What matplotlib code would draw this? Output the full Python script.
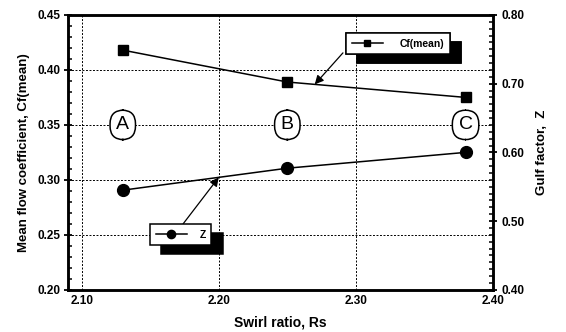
import numpy as np
import matplotlib.pyplot as plt
from matplotlib.ticker import MultipleLocator

plt.rcParams['font.family'] = ['Liberation Sans', 'DejaVu Sans']
plt.rcParams['font.weight'] = 'bold'

# swirl ratio of the three cases and the measured quantities
rs = [2.13, 2.25, 2.38]
cf_mean = [0.418, 0.389, 0.375]
gulf_z = [0.545, 0.577, 0.600]
case_names = ['A', 'B', 'C']

fig = plt.figure(figsize=(5.66, 3.32), dpi=100)
ax = fig.add_axes([0.120, 0.127, 0.751, 0.828])
ax2 = ax.twinx()

grid_style = dict(color='black', linestyle=(0, (2, 1.6)), linewidth=0.7)

ax.set_xlim(2.09, 2.40)
ax.set_ylim(0.20, 0.45)
ax2.set_ylim(0.40, 0.80)
ax.set_xticks([2.10, 2.20, 2.30, 2.40])
ax.set_xticklabels(['2.10', '2.20', '2.30', '2.40'])
ax.set_yticks([0.20, 0.25, 0.30, 0.35, 0.40, 0.45])
ax.yaxis.set_major_formatter(plt.FormatStrFormatter('%.2f'))
ax.yaxis.set_minor_locator(MultipleLocator(0.01))
ax2.set_yticks([0.40, 0.50, 0.60, 0.70, 0.80])
ax2.yaxis.set_major_formatter(plt.FormatStrFormatter('%.2f'))
ax2.yaxis.set_minor_locator(MultipleLocator(0.01))

for x in [2.10, 2.20, 2.30]:
    ax.axvline(x, **grid_style, zorder=0)
for y in [0.25, 0.30, 0.35, 0.40]:
    ax.axhline(y, **grid_style, zorder=0)

for a in (ax, ax2):
    for sp in a.spines.values():
        sp.set_linewidth(1.8)
ax.tick_params(axis='x', length=0, pad=4, labelsize=8.5)
ax.tick_params(axis='y', which='major', direction='inout', length=6, width=1.3,
               pad=2, labelsize=8.5)
ax.tick_params(axis='y', which='minor', direction='in', length=3, width=1.1)
ax2.tick_params(axis='y', which='major', direction='inout', length=6, width=1.3,
                pad=3, labelsize=8.5)
ax2.tick_params(axis='y', which='minor', direction='in', length=3, width=1.1)

l1, = ax.plot(rs, cf_mean, color='black', lw=1.1, marker='s', ms=7,
              label='Cf(mean)', zorder=3)
l2, = ax2.plot(rs, gulf_z, color='black', lw=1.1, marker='o', ms=8.5,
               label='Z', zorder=3)

# case labels in rounded boxes
for x, name in zip(rs, case_names):
    ax.text(x, 0.35, name, ha='center', va='center', fontsize=14,
            fontweight='normal', zorder=4,
            bbox=dict(boxstyle='round,pad=0.32,rounding_size=0.7',
                      fc='white', ec='black', lw=1.1))

shadow = {'ox': 8, 'oy': -6.5, 'color': 'black', 'alpha': 1}
leg_style = dict(loc='upper left', borderaxespad=0, fancybox=False,
                 shadow=shadow, framealpha=1, edgecolor='black', fontsize=7.5,
                 handlelength=3.0, borderpad=0.55, markerscale=0.7)
leg1 = ax.legend(handles=[l1], bbox_to_anchor=(0.654, 0.935),
                 handletextpad=1.6, **leg_style)
leg1.get_frame().set_linewidth(1.1)
ax.add_artist(leg1)
leg2 = ax2.legend(handles=[l2], bbox_to_anchor=(0.193, 0.24),
                  handletextpad=1.2, **leg_style)
leg2.get_frame().set_linewidth(1.1)

# arrows from the legend boxes to the curves
x_cf = 2.27
ax.annotate('', xy=(x_cf, np.interp(x_cf, rs, cf_mean)), xytext=(0.647, 0.862),
            textcoords='axes fraction',
            arrowprops=dict(arrowstyle='-|>', color='black', lw=0.9,
                            mutation_scale=13, shrinkA=0, shrinkB=0), zorder=5)
x_z = 2.20
ax2.annotate('', xy=(x_z, np.interp(x_z, rs, gulf_z)), xytext=(0.271, 0.24),
             textcoords='axes fraction',
             arrowprops=dict(arrowstyle='-|>', color='black', lw=0.9,
                             mutation_scale=13, shrinkA=0, shrinkB=0), zorder=5)

ax.set_xlabel('Swirl ratio, Rs', fontsize=10, fontweight='bold', labelpad=6)
ax.set_ylabel('Mean flow coefficient, Cf(mean)', fontsize=9.5, fontweight='bold',
              labelpad=6)
ax2.set_ylabel('Gulf factor,  Z', fontsize=9.5, fontweight='bold', labelpad=8)

fig.savefig('out.png', dpi=100)
